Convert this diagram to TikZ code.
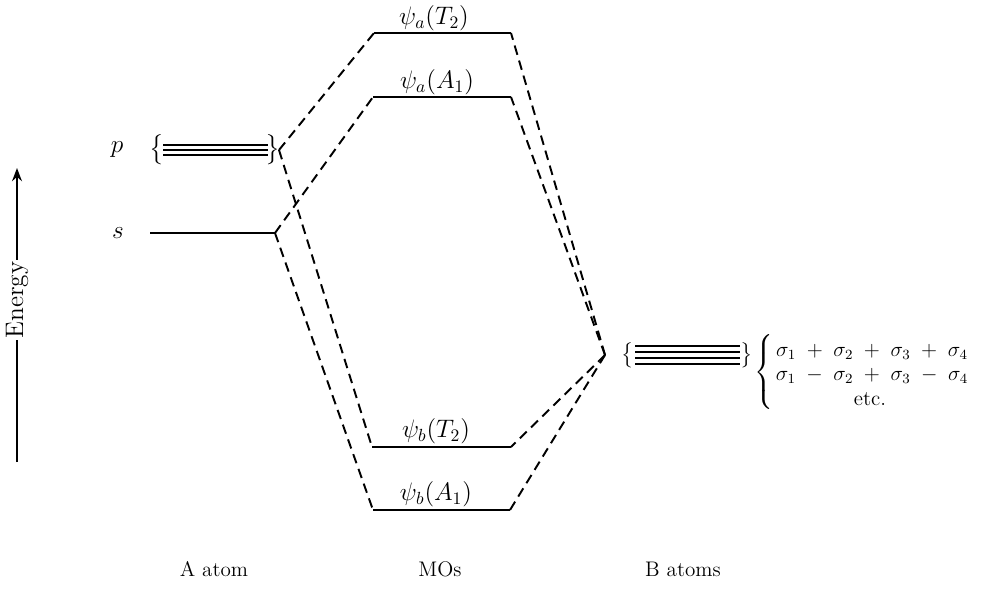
\documentclass[tikz,border=0pt]{standalone}
\usepackage{amsmath, amssymb}
\usepackage{tikz}
\usetikzlibrary{arrows.meta, positioning, calc}

\begin{document}
\begin{tikzpicture}[x=0.02cm,y=-0.02cm,
  level/.style={line width=1.2pt},
  thin level/.style={line width=0.9pt},
  corr/.style={line width=1.1pt,dash pattern=on 5.5pt off 3.4pt},
  lbl/.style={font=\large,inner sep=1pt},
  mo/.style={font=\Large,inner sep=1pt},
  combo/.style={font=\large,inner sep=0pt}]
  \useasboundingbox (0,0) rectangle (983,591);
  % energy axis
  \coordinate (ebot) at (17,462);
  \coordinate (etop) at (17,168);
  \node[mo,rotate=90](elabel) at (17,300){Energy};
  \draw[line width=1pt](ebot)--(elabel);
  \draw[-Stealth,line width=1pt](elabel)--(etop);
  % A atom levels
  \node[mo](plab) at (117,150){$p$};
  \node[mo](slab) at (118,233){$s$};
  \coordinate (pL) at (163,150);\coordinate (pR) at (268,150);
  \foreach \dy in {-5,0,5}
    \draw[thin level]($(pL)+(0,\dy)$)--($(pR)+(0,\dy)$);
  \node[mo](plb) at (157,150){$\big\{$};
  \node[mo](prb) at (273,150){$\big\}$};
  \coordinate (pE) at (279,150);
  \coordinate (sL) at (150,233);\coordinate (sR) at (275,233);
  \draw[level](sL)--(sR);
  % MOs
  \coordinate (at2L) at (374,33);\coordinate (at2R) at (511,33);
  \coordinate (aa1L) at (373,97);\coordinate (aa1R) at (511,97);
  \coordinate (bt2L) at (372,447);\coordinate (bt2R) at (511,447);
  \coordinate (ba1L) at (373,510);\coordinate (ba1R) at (510,510);
  \draw[level](at2L)--(at2R);
  \draw[level](aa1L)--(aa1R);
  \draw[level](bt2L)--(bt2R);
  \draw[level](ba1L)--(ba1R);
  \node[mo](at2lab) at (434,18){$\psi_a(T_2)$};
  \node[mo](aa1lab) at (437,82){$\psi_a(A_1)$};
  \node[mo](bt2lab) at (436,431){$\psi_b(T_2)$};
  \node[mo](ba1lab) at (436,494){$\psi_b(A_1)$};
  % B atoms levels
  \coordinate (BL) at (635,355);\coordinate (BR) at (740,355);
  \foreach \dy in {-9,-3,3,9}
    \draw[thin level]($(BL)+(0,\dy)$)--($(BR)+(0,\dy)$);
  \node[lbl](blb) at (628,355){$\big\{$};
  \node[lbl](brb) at (747,355){$\big\}$};
  \coordinate (BE) at (605,355);
  % combinations of the sigma orbitals
  \node[combo](bigbrace) at (765,372){$\left\{\vrule height 0.6cm depth 0.6cm width 0pt\right.$};
  \node[combo](row1) at (872,352){$\sigma_1\;+\;\sigma_2\;+\;\sigma_3\;+\;\sigma_4$};
  \node[combo](row2) at (872,376){$\sigma_1\;-\;\sigma_2\;+\;\sigma_3\;-\;\sigma_4$};
  \node[combo](row3) at (870,399){etc.};
  % correlation lines
  \draw[corr](pE)--(at2L);
  \draw[corr](pE)--(bt2L);
  \draw[corr](sR)--(aa1L);
  \draw[corr](sR)--(ba1L);
  \draw[corr](BE)--(at2R);
  \draw[corr](BE)--(aa1R);
  \draw[corr](BE)--(bt2R);
  \draw[corr](BE)--(ba1R);
  % column captions
  \node[lbl](acap) at (214,569){A atom};
  \node[lbl](mcap) at (440,569){MOs};
  \node[lbl](bcap) at (683,569){B atoms};
\end{tikzpicture}
\end{document}
